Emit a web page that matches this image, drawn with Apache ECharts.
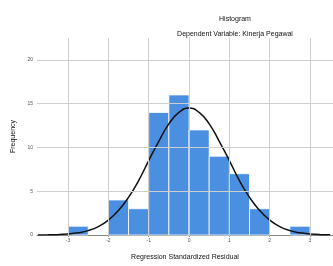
<!DOCTYPE html>
<html><head><meta charset="utf-8">
<script src="https://cdn.jsdelivr.net/npm/echarts@6/dist/echarts.min.js"></script>
<style>html,body{margin:0;padding:0;background:#fff}#c{width:333px;height:266px}</style>
</head><body><div id="c"></div>
<script>
var binLow  = [-3, -2, -1.5, -1, -0.5, 0, 0.5, 1, 1.5, 2.5];
var binHigh = [-2.5, -1.5, -1, -0.5, 0, 0.5, 1, 1.5, 2, 3];
var counts  = [1, 4, 3, 14, 16, 12, 9, 7, 3, 1];
var curveX = [-3.75,-3.5,-3.25,-3,-2.75,-2.5,-2.25,-2,-1.75,-1.5,-1.25,-1,-0.75,-0.5,-0.25,0,0.25,0.5,0.75,1,1.25,1.5,1.75,2,2.25,2.5,2.75,3,3.25,3.5];
var curveY = [0.01,0.02,0.04,0.11,0.25,0.5,0.95,1.7,2.8,4.3,6.2,8.5,10.7,12.7,14.0,14.5,14.0,12.7,10.7,8.5,6.2,4.3,2.8,1.7,0.95,0.5,0.25,0.11,0.04,0.02];
var xTicks = [-3,-2,-1,0,1,2,3];
var yTicks = [0,5,10,15,20];

var chart = echarts.init(document.getElementById('c'), null, {renderer:'canvas'});
var bars = binLow.map(function(l,i){return [l, binHigh[i], counts[i]];});
var curve = curveX.map(function(x,i){return [x, curveY[i]];});
var grids = xTicks.map(function(v){return {xAxis:v};}).concat(yTicks.slice(1).map(function(v){return {yAxis:v};}));
var font = 'Liberation Sans, Arial, sans-serif';
chart.setOption({
  backgroundColor:'#ffffff',
  animation:false,
  title:[
    {text:'Histogram', left:230, top:11, textAlign:'center', textStyle:{fontSize:7, fontWeight:'normal', color:'#111', fontFamily:font}},
    {text:'Dependent Variable: Kinerja Pegawai', left:230, top:26, textAlign:'center', textStyle:{fontSize:7, fontWeight:'normal', color:'#111', fontFamily:font}}
  ],
  grid:{left:37, right:0, top:38, bottom:28},
  xAxis:{type:'value', min:-3.77, max:3.57,
    name:'Regression Standardized Residual', nameLocation:'middle', nameGap:19,
    nameTextStyle:{fontSize:7, color:'#111', fontFamily:font},
    axisLine:{show:true, lineStyle:{color:'#888', width:1}},
    axisTick:{show:true, length:2, customValues:xTicks, lineStyle:{color:'#999'}},
    axisLabel:{fontSize:5, color:'#555', margin:3, customValues:xTicks, fontFamily:font},
    splitLine:{show:false}},
  yAxis:{type:'value', min:0, max:22.5,
    name:'Frequency', nameLocation:'middle', nameGap:19, nameRotate:90,
    nameTextStyle:{fontSize:7, color:'#111', fontFamily:font},
    axisLine:{show:true, lineStyle:{color:'#888', width:1}},
    axisTick:{show:true, length:2, customValues:yTicks, lineStyle:{color:'#999'}},
    axisLabel:{fontSize:5, color:'#555', margin:4, customValues:yTicks, fontFamily:font},
    splitLine:{show:false}},
  series:[
    {type:'line', data:[], z:1, silent:true,
     markLine:{silent:true, symbol:'none', label:{show:false}, animation:false,
       lineStyle:{color:'#cfcfcf', width:1, type:'solid'}, data:grids}},
    {type:'custom', z:2, data:bars,
     encode:{x:[0,1], y:2},
     renderItem:function(params, api){
       var p0 = api.coord([api.value(0), api.value(2)]);
       var p1 = api.coord([api.value(1), 0]);
       return {type:'rect', shape:{x:p0[0], y:p0[1], width:p1[0]-p0[0], height:p1[1]-p0[1]},
         style:{fill:'#4a8fe0', stroke:'#ffffff', lineWidth:0.8}};
     }},
    {type:'line', z:3, data:curve, smooth:true, symbol:'none',
     lineStyle:{color:'#111', width:1.5}}
  ]
});
</script></body></html>
